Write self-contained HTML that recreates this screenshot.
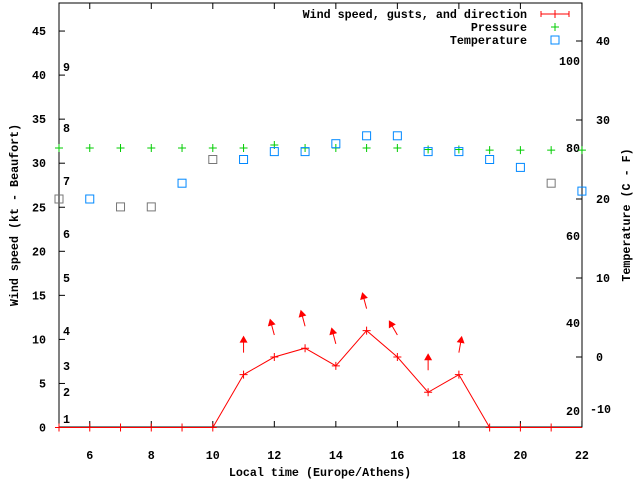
<!DOCTYPE html>
<html><head><meta charset="utf-8"><style>
body{margin:0;background:#fff}
svg{display:block;font-family:"Liberation Mono",monospace;font-size:11.7px;font-weight:bold}
</style></head><body>
<svg id="chart" width="640" height="480" xmlns="http://www.w3.org/2000/svg">
<rect x="59" y="3" width="523" height="424" fill="none" stroke="#000"/>
<text x="320" y="476" text-anchor="middle">Local time (Europe/Athens)</text>
<text transform="translate(18,215) rotate(-90)" text-anchor="middle">Wind speed (kt - Beaufort)</text>
<text transform="translate(630,215) rotate(-90)" text-anchor="middle">Temperature (C - F)</text>
<g>
<text x="527" y="18" text-anchor="end">Wind speed, gusts, and direction</text>
<line x1="541" y1="14" x2="569" y2="14" stroke="#f00"/><line x1="541" y1="11" x2="541" y2="17" stroke="#f00"/><line x1="569" y1="11" x2="569" y2="17" stroke="#f00"/><line x1="555" y1="10" x2="555" y2="18" stroke="#f00"/>
<text x="527" y="31" text-anchor="end">Pressure</text>
<path d="M551 27h8M555 23v8" stroke="#0c0"/>
<text x="527" y="44" text-anchor="end">Temperature</text>
<rect x="551" y="36" width="8" height="8" fill="none" stroke="#08f"/>
</g>
<g id="g"></g>
</svg>
<script>
const hours=[5,6,7,8,9,10,11,12,13,14,15,16,17,18,19,20,21,22];
const wind=[0,0,0,0,0,0,6,8,9,7,11,8,4,6,0,0,0,null];
const windDir=[null,null,null,null,null,null,0,-15,-15,-15,-15,-30,0,10,null,null,null,null];
const temp=[20,20,19,19,22,25,25,26,26,27,28,28,26,26,25,24,22,21];
const tempGrey=[1,0,1,1,0,1,0,0,0,0,0,0,0,0,0,0,1,0];
const pressure=[1014,1014,1014,1014,1014,1014,1014,1015,1014,1014,1014,1014,1013.5,1013.5,1013.3,1013.3,1013.3,1013.3];
const xTicks=[6,8,10,12,14,16,18,20,22];
const yTicks=[0,5,10,15,20,25,30,35,40,45];
const y2Ticks=[0,10,20,30,40];
const beaufort=[["1",419],["2",392],["3",366],["4",331],["5",278],["6",234],["7",181],["8",128],["9",67]];
const fLabels=[["100",61],["80",148],["60",236],["40",323],["20",411]];
const X=v=>59+(v-5)*30.76;
const Y=v=>427.5-v*8.81;
const Y2=v=>357-v*7.9;
const P=v=>148-(v-1014)*3;
const NS="http://www.w3.org/2000/svg",g=document.getElementById('g');
function mk(t,a,txt){const e=document.createElementNS(NS,t);for(const k in a)e.setAttribute(k,a[k]);if(txt!=null)e.textContent=txt;g.appendChild(e);return e;}
xTicks.forEach(v=>{
 let e=mk('line',{x1:X(v),x2:X(v),y1:427,y2:421,stroke:'#000'});
 
 
 e=mk('line',{x1:X(v),x2:X(v),y1:3,y2:9,stroke:'#000'});
 
 
 e=mk('text',{x:X(v),y:459,'text-anchor':'middle'},String(v));
 
 
});
yTicks.forEach(v=>{
 let e=mk('line',{x1:59,x2:65,y1:Y(v),y2:Y(v),stroke:'#000'});
 
 
 e=mk('text',{x:46,y:Y(v)+4,'text-anchor':'end'},String(v));
 
 
});
y2Ticks.forEach(v=>{
 let e=mk('line',{x1:576,x2:582,y1:Y2(v),y2:Y2(v),stroke:'#000'});
 
 
 e=mk('text',{x:596,y:Y2(v)+4},String(v));
 
 
});
let e0=mk('text',{x:590,y:413},'-10');


beaufort.forEach(b=>{
 const e=mk('text',{x:63,y:b[1]+4},b[0]);
 
 
});
fLabels.forEach(b=>{
 const e=mk('text',{x:580,y:b[1]+4,'text-anchor':'end'},b[0]);
 
 
});
hours.forEach((h,i)=>{
 const x=X(h),y=P(pressure[i]);
 const e=mk('path',{d:`M${x-4} ${y}h8M${x} ${y-4}v8`,stroke:'#0c0'});
 
 
});
hours.forEach((h,i)=>{
 const x=X(h),y=Y2(temp[i]);
 const e=mk('rect',{x:x-4,y:y-4,width:8,height:8,fill:'none',stroke:tempGrey[i]?'#777':'#08f'});
 
 
});
let pts=[];hours.forEach((h,i)=>{if(wind[i]!=null)pts.push(X(h)+','+Y(wind[i]));});
const wl=mk('polyline',{points:'59,'+Y(0)+' '+pts.join(' ')+' 582,'+Y(0),fill:'none',stroke:'#f00'});


hours.forEach((h,i)=>{
 if(wind[i]==null)return;
 const x=X(h),y=Y(wind[i]);
 const e=mk('path',{d:`M${x-4} ${y}h8M${x} ${y-4}v8`,stroke:'#f00'});
 
 
 if(windDir[i]!=null){
  const bx=x,by=y-22;
  const a=mk('g',{transform:`translate(${bx},${by}) rotate(${windDir[i]})`});
  
  
  const l=document.createElementNS(NS,'path');l.setAttribute('d','M0 0V-14');l.setAttribute('stroke','#f00');a.appendChild(l);
  const hd=document.createElementNS(NS,'path');hd.setAttribute('d','M-4 -10L0 -17L4 -10Z');hd.setAttribute('fill','#f00');a.appendChild(hd);
 }
});
</script>
</body></html>
